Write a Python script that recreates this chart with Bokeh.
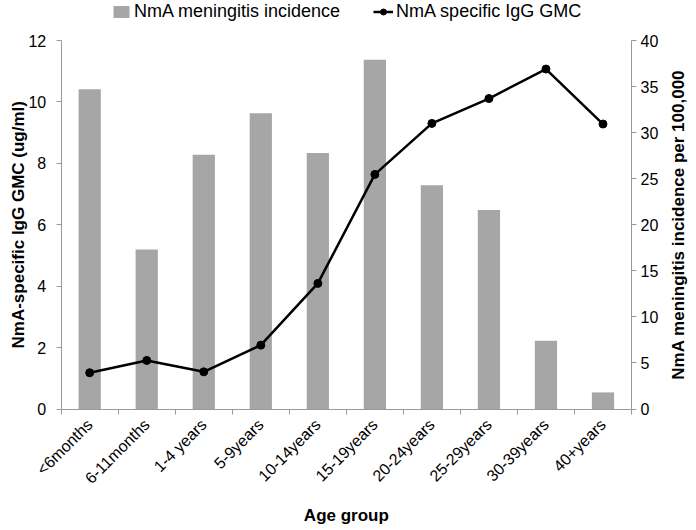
from bokeh.plotting import figure
from bokeh.models import (Range1d, LinearAxis, FixedTicker, Legend, LegendItem,
                          ColumnDataSource, Label)
from bokeh.embed import file_html
from bokeh.resources import INLINE
import math

categories = ["<6months", "6-11months", "1-4 years", "5-9years", "10-14years",
              "15-19years", "20-24years", "25-29years", "30-39years", "40+years"]
incidence = [34.7, 17.3, 27.6, 32.1, 27.8, 37.9, 24.3, 21.6, 7.4, 1.8]
gmc = [1.18, 1.58, 1.21, 2.08, 4.09, 7.64, 9.30, 10.11, 11.07, 9.28]
left_ticks = [0, 2, 4, 6, 8, 10, 12]
right_ticks = [0, 5, 10, 15, 20, 25, 30, 35, 40]
left_max, right_max = 12, 40

FONT = "Liberation Sans"
AXIS_GRAY = "#9a9a9a"
BAR_GRAY = "#a6a6a6"

# layout (figure pixels): the frame fills the whole figure, axes sit at fixed locations
W, H = 696, 530
PX_L, PX_R = 60.7, 631.0      # x of first/last category boundary
PX_TOP, PX_BOT = 40.0, 408.5  # y of axis max / zero

n = len(categories)
ppx = (PX_R - PX_L) / n
ppy = (PX_BOT - PX_TOP) / left_max
x0 = -PX_L / ppx
x1 = x0 + W / ppx
y0 = -(H - PX_BOT) / ppy
y1 = left_max + PX_TOP / ppy
k = right_max / left_max

def fx(px):
    return x0 + px / ppx

def fy(py):
    return (PX_BOT - py) / ppy

xc = [i + 0.5 for i in range(n)]
src = ColumnDataSource(dict(x=xc, cat=categories, inc=incidence, gmc=gmc))

p = figure(width=W, height=H, x_range=Range1d(x0, x1), y_range=Range1d(y0, y1),
           output_backend="svg", toolbar_location=None,
           min_border_left=0, min_border_right=0, min_border_top=0, min_border_bottom=0)
p.extra_y_ranges = {"inc": Range1d(y0 * k, y1 * k)}
p.outline_line_color = None
p.xgrid.visible = False
p.ygrid.visible = False
p.background_fill_color = "white"
p.border_fill_color = "white"

r_bar = p.vbar(x="x", top="inc", width=0.39, source=src, y_range_name="inc",
               fill_color=BAR_GRAY, line_color=None)
r_line = p.line(x="x", y="gmc", source=src, line_color="black", line_width=2.5)
r_pts = p.scatter(x="x", y="gmc", source=src, size=8, fill_color="black", line_color="black")

# x axis
xa = p.xaxis[0]
xa.fixed_location = 0
xa.bounds = (0, n)
xa.ticker = FixedTicker(ticks=xc, minor_ticks=list(range(n + 1)))
xa.major_label_overrides = {x: c for x, c in zip(xc, categories)}
xa.minor_tick_line_color = AXIS_GRAY
xa.minor_tick_out = 5
xa.minor_tick_in = 0
xa.major_label_orientation = math.pi / 4

# left axis
ya = p.yaxis[0]
ya.fixed_location = 0
ya.ticker = FixedTicker(ticks=left_ticks)
ya.bounds = (0, left_max)
ya.minor_tick_line_color = None

ra = LinearAxis(y_range_name="inc", ticker=FixedTicker(ticks=right_ticks),
                bounds=(0, right_max), fixed_location=n)
ra.minor_tick_line_color = None
p.add_layout(ra, "right")

for ax in [xa, ya, ra]:
    ax.axis_line_color = AXIS_GRAY
    ax.major_tick_line_color = AXIS_GRAY
    ax.major_tick_out = 5
    ax.major_tick_in = 0
    ax.major_label_text_font = FONT
    ax.major_label_text_font_size = "16px"
    ax.major_label_text_color = "black"
xa.major_tick_line_color = None
xa.major_label_standoff = 8
ya.major_label_standoff = 10
ra.major_label_standoff = 4

title_style = dict(text_font=FONT, text_font_size="17px", text_font_style="bold",
                   text_color="black", text_align="center", text_baseline="middle")
p.add_layout(Label(x=n / 2, y=fy(515), text="Age group", **title_style))
p.add_layout(Label(x=fx(18), y=left_max / 2, angle=math.pi / 2,
                   text="NmA-specific IgG GMC (ug/ml)", **title_style))
p.add_layout(Label(x=fx(678), y=left_max / 2, angle=math.pi / 2,
                   text="NmA meningitis incidence per 100,000", **title_style))

legend = Legend(items=[LegendItem(label="NmA meningitis incidence", renderers=[r_bar]),
                       LegendItem(label="NmA specific IgG GMC", renderers=[r_line, r_pts])],
                orientation="horizontal", location=(111, H - 22),
                border_line_color=None, background_fill_alpha=0,
                label_text_font=FONT, label_text_font_size="18px", label_text_color="black",
                glyph_width=20, glyph_height=15, label_standoff=3, spacing=33,
                padding=0, margin=0, label_height=18)
p.add_layout(legend)

open("out.html", "w").write(file_html(p, INLINE))
